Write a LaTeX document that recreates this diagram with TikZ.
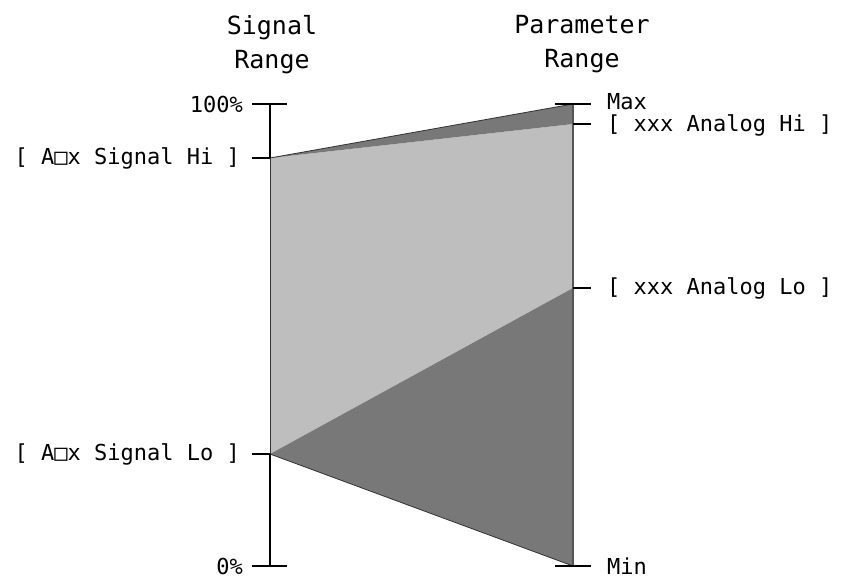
\documentclass[tikz,border=0pt]{standalone}
\usepackage{fontspec}
\setmonofont{DejaVu Sans Mono}
\usetikzlibrary{positioning}
\definecolor{RangeLight}{RGB}{190,190,190}
\definecolor{RangeDark}{RGB}{120,120,120}
\definecolor{AxisGray}{RGB}{85,85,85}
\tikzset{
  scaletick/.style={line width=2.4pt, black},
  filledge/.style={line width=0.8pt, black!80},
  paraxis/.style={line width=1.6pt, AxisGray},
  sidelabel/.style={inner sep=0pt, font=\ttfamily\fontsize{22}{24}\selectfont},
  headlabel/.style={inner sep=0pt, align=center, font=\ttfamily\fontsize{25}{34}\selectfont}
}

\begin{document}
\begin{tikzpicture}[x=1pt,y=-1pt]
  \useasboundingbox (0,0) rectangle (849,579);

  % points on the two scales
  \coordinate (sTop) at (270,104);
  \coordinate (sHi)  at (270,158);
  \coordinate (sLo)  at (270,454);
  \coordinate (sBot) at (270,566);
  \coordinate (pMax) at (573,104);
  \coordinate (pHi)  at (573,124);
  \coordinate (pLo)  at (573,288);
  \coordinate (pMin) at (573,566);

  % tick ends
  \coordinate (tTopL) at (252,104);  \coordinate (tTopR) at (287,104);
  \coordinate (tHiL)  at (252,158);
  \coordinate (tLoL)  at (252,454);
  \coordinate (tBotL) at (252,566);  \coordinate (tBotR) at (287,566);
  \coordinate (tMaxL) at (555,104);  \coordinate (tMaxR) at (591,104);
  \coordinate (tAHiR) at (591,124);
  \coordinate (tALoR) at (591,288);
  \coordinate (tMinL) at (555,566);  \coordinate (tMinR) at (591,566);

  % mapping areas
  \fill[RangeLight] (sHi) -- (pHi) -- (pLo) -- (sLo) -- cycle;
  \fill[RangeDark] (sHi) -- (pMax) -- (pHi) -- cycle;
  \fill[RangeDark] (sLo) -- (pLo) -- (pMin) -- cycle;
  \draw[filledge] (sHi) -- (pMax);
  \draw[filledge] (sLo) -- (pMin);
  \draw[filledge] (sHi) -- (sLo);
  \draw[paraxis] (pMax) -- (pMin);

  % signal scale
  \draw[scaletick] (sTop) -- (sHi);
  \draw[scaletick] (sLo) -- (sBot);
  \draw[scaletick] (tTopL) -- (tTopR);
  \draw[scaletick] (tHiL) -- (sHi);
  \draw[scaletick] (tLoL) -- (sLo);
  \draw[scaletick] (tBotL) -- (tBotR);

  % parameter scale
  \draw[scaletick] (tMaxL) -- (tMaxR);
  \draw[scaletick] (pHi) -- (tAHiR);
  \draw[scaletick] (pLo) -- (tALoR);
  \draw[scaletick] (tMinL) -- (tMinR);

  % labels
  \node[sidelabel, left=9pt of tTopL] (lblTop) {100\%};
  \node[sidelabel, left=12pt of tHiL] (lblSigHi) {[ A□x Signal Hi ]};
  \node[sidelabel, left=12pt of tLoL] (lblSigLo) {[ A□x Signal Lo ]};
  \node[sidelabel, left=9pt of tBotL] (lblBot) {0\%};
  \node[sidelabel, right=16pt of tMaxR, yshift=3pt, text depth=0pt] (lblMax) {Max};
  \node[sidelabel, right=16pt of tAHiR, yshift=-1pt] (lblAnaHi) {[ xxx Analog Hi ]};
  \node[sidelabel, right=16pt of tALoR] (lblAnaLo) {[ xxx Analog Lo ]};
  \node[sidelabel, right=16pt of tMinR] (lblMin) {Min};

  \node[headlabel, anchor=north] (sigHead) at (272,15) {Signal\\Range};
  \node[headlabel, anchor=north] (parHead) at (582,15) {Parameter\\Range};
\end{tikzpicture}
\end{document}
